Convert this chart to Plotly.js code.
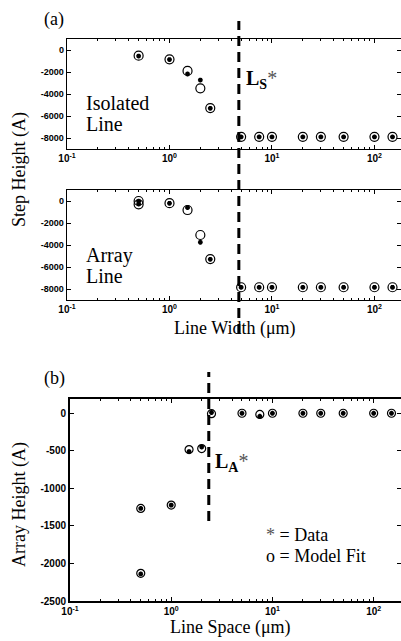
<!DOCTYPE html>
<html>
<head>
<meta charset="utf-8">
<script src="https://cdn.plot.ly/plotly-3.0.1.min.js"></script>
<style>html,body{margin:0;padding:0;background:#fff;}#plot{width:401px;height:641px;}</style>
</head>
<body>
<div id="plot"></div>
<script>
// ---- data ----
var lineWidths = [0.5, 1, 1.5, 2, 2.5, 5, 7.5, 10, 20, 30, 50, 100, 150];
var isolatedData = [-550, -870, -2180, -2730, -5300, -7900, -7900, -7900, -7900, -7900, -7900, -7900, -7900];
var isolatedFit  = [-520, -850, -1900, -3480, -5280, -7890, -7890, -7890, -7890, -7890, -7890, -7890, -7890];

var arrayWidths = [0.5, 0.5, 1, 1.5, 2, 2.5, 5, 7.5, 10, 20, 30, 50, 100, 150];
var arrayData = [-20, -280, -210, -600, -3750, -5300, -7850, -7850, -7850, -7850, -7850, -7850, -7850, -7850];
var arrayFit  = [0, -300, -200, -820, -3090, -5280, -7840, -7840, -7840, -7840, -7840, -7840, -7840, -7840];

var lineSpaces = [0.5, 0.5, 1, 1.5, 2, 2.5, 5, 7.5, 10, 20, 30, 50, 100, 150];
var heightData = [-1267, -2140, -1223, -510, -450, 10, 0, -40, 0, 0, 0, 0, 0, 0];
var heightFit  = [-1267, -2132, -1223, -483, -470, -5, 0, -15, 0, 0, 0, 0, 0, 0];

var criticalWidth = 4.75;   // L_S*
var criticalSpace = 2.35;   // L_A*

var xTickVals = [0.1, 1, 10, 100];
var xTickText = ['10<sup>-1</sup>', '10<sup>0</sup>', '10<sup>1</sup>', '10<sup>2</sup>'];
var stepTickVals = [0, -2000, -4000, -6000, -8000];
var stepTickText = ['0', '-2000', '-4000', '-6000', '-8000'];
var heightTickVals = [0, -500, -1000, -1500, -2000, -2500];
var heightTickText = ['0', '-500', '-1000', '-1500', '-2000', '-2500'];

// ---- helpers ----
var W = 401, H = 641;
function px(x) { return x / W; }
function py(y) { return 1 - y / H; }
var minorVals = [];
[0.1, 1, 10, 100].forEach(function (d) { for (var k = 2; k <= 9; k++) minorVals.push(d * k); });

var tickFont = {family: 'Liberation Sans, Arial', size: 10, color: '#000', weight: 'bold'};
function xAx(domain, range, anchor, lw) {
  return {
    domain: domain, type: 'log', range: range, anchor: anchor,
    tickvals: xTickVals, ticktext: xTickText, tickfont: tickFont,
    ticks: 'inside', ticklen: 4, tickwidth: 1, tickcolor: '#000',
    mirror: 'ticks', showline: true, linewidth: lw, linecolor: '#000',
    showgrid: false, zeroline: false, automargin: false,
    minor: {tickvals: minorVals, ticks: 'inside', ticklen: 2, tickwidth: 1, tickcolor: '#000', showgrid: false}
  };
}
function yAx(domain, range, anchor, vals, text, lw, fs) {
  return {
    domain: domain, range: range, anchor: anchor,
    tickvals: vals, ticktext: text,
    tickfont: {family: 'Liberation Sans, Arial', size: fs, color: '#000', weight: 'bold'},
    ticks: 'inside', ticklen: 4, tickwidth: 1, tickcolor: '#000',
    mirror: 'ticks', showline: true, linewidth: lw, linecolor: '#000',
    showgrid: false, zeroline: false, automargin: false
  };
}
function fitTrace(x, y, xa, ya, sz) {
  return {x: x, y: y, xaxis: xa, yaxis: ya, mode: 'markers', type: 'scatter',
    marker: {symbol: 'circle-open', size: sz, color: '#000', line: {width: 1.2, color: '#000'}}, hoverinfo: 'skip'};
}
function dataTrace(x, y, xa, ya) {
  return {x: x, y: y, xaxis: xa, yaxis: ya, mode: 'markers', type: 'scatter',
    marker: {symbol: 'asterisk-open', size: 4, color: '#000', line: {width: 1.6, color: '#000'}}, hoverinfo: 'skip'};
}

var traces = [
  fitTrace(lineWidths, isolatedFit, 'x', 'y', 9),
  dataTrace(lineWidths, isolatedData, 'x', 'y'),
  fitTrace(arrayWidths, arrayFit, 'x2', 'y2', 9),
  dataTrace(arrayWidths, arrayData, 'x2', 'y2'),
  fitTrace(lineSpaces, heightFit, 'x3', 'y3', 8),
  dataTrace(lineSpaces, heightData, 'x3', 'y3')
];

var serif = 'Liberation Serif, Times New Roman, serif';
function ann(text, x, y, size, opts) {
  var a = {text: text, xref: 'paper', yref: 'paper', x: px(x), y: py(y), showarrow: false,
    xanchor: 'left', yanchor: 'middle', font: {family: serif, size: size, color: '#000'}};
  for (var k in (opts || {})) a[k] = opts[k];
  return a;
}

var layout = {
  width: W, height: H, margin: {l: 0, r: 0, t: 0, b: 0},
  paper_bgcolor: '#fff', plot_bgcolor: '#fff', showlegend: false,
  xaxis: xAx([px(67), 1], [-1, 2.259], 'y', 1.3),
  yaxis: yAx([py(149), py(39)], [-9000, 1000], 'x', stepTickVals, stepTickText, 1.3, 9),
  xaxis2: xAx([px(67), 1], [-1, 2.259], 'y2', 1.3),
  yaxis2: yAx([py(300), py(190)], [-9000, 1000], 'x2', stepTickVals, stepTickText, 1.3, 9),
  xaxis3: xAx([px(70), 1], [-1, 2.27], 'y3', 2),
  yaxis3: yAx([py(601), py(399)], [-2500, 190], 'x3', heightTickVals, heightTickText, 2, 10),
  shapes: [
    {type: 'line', xref: 'x', yref: 'paper', x0: criticalWidth, x1: criticalWidth, y0: py(334), y1: py(21),
      line: {color: '#000', width: 3, dash: '10px,6px'}},
    {type: 'line', xref: 'x3', yref: 'paper', x0: criticalSpace, x1: criticalSpace, y0: py(521), y1: py(372),
      line: {color: '#000', width: 3, dash: '10px,6px'}}
  ],
  annotations: [
    ann('(a)', 42, 20, 18),
    ann('(b)', 42, 378, 18),
    ann('Isolated', 84, 103, 20),
    ann('Line', 84, 124, 20),
    ann('Array', 84, 255, 20),
    ann('Line', 84, 276, 20),
    ann('<b>L<sub>S</sub></b><span style="color:#555">*</span>', 244, 79, 20),
    ann('<b>L<sub>A</sub></b><span style="color:#555">*</span>', 213, 463, 20),
    ann('<span style="color:#555">*</span> = Data', 264, 535, 18),
    ann('o = Model Fit', 264, 556, 18),
    ann('Step Height (A)', 19, 170, 18, {xanchor: 'center', textangle: -90}),
    ann('Array Height (A)', 19, 505, 18, {xanchor: 'center', textangle: -90}),
    ann('Line Width (μm)', 235, 328, 18, {xanchor: 'center'}),
    ann('Line Space (μm)', 230, 627, 18, {xanchor: 'center'})
  ]
};

Plotly.newPlot('plot', traces, layout, {staticPlot: true, displayModeBar: false});
</script>
</body>
</html>
